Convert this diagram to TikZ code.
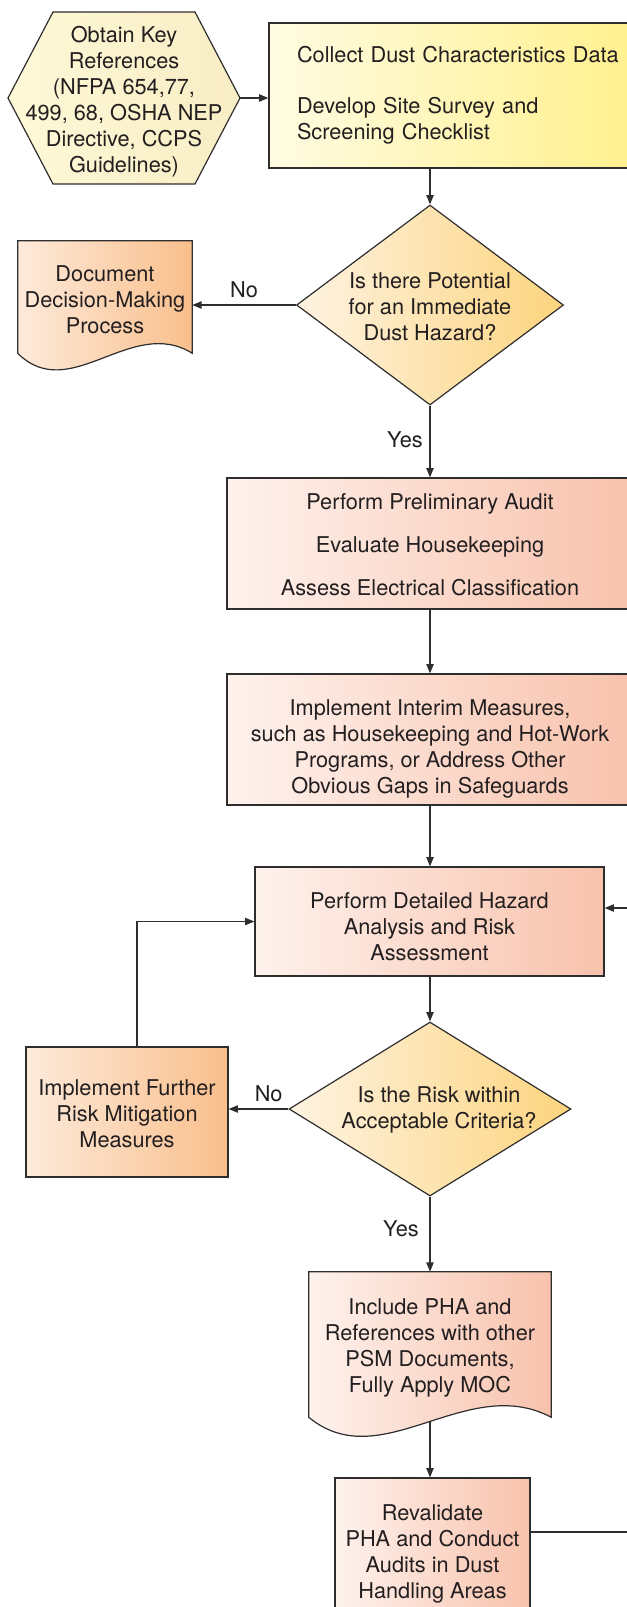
\documentclass[tikz,border=0pt]{standalone}
\usepackage{fontspec}
\setmainfont{TeX Gyre Heros}
\usepackage{xcolor}
\definecolor{inkgray}{HTML}{231F20}
\definecolor{edgegray}{HTML}{2E2E2E}
\definecolor{hexL}{HTML}{FFF9D8}
\definecolor{hexR}{HTML}{F8EDC4}
\definecolor{yellowL}{HTML}{FFFCE2}
\definecolor{yellowR}{HTML}{FFF08A}
\definecolor{amberL}{HTML}{FEF3E2}
\definecolor{amberR}{HTML}{FCD47E}
\definecolor{salmonL}{HTML}{FEF2ED}
\definecolor{salmonR}{HTML}{F8C2AC}
\definecolor{peachL}{HTML}{FDEADA}
\definecolor{peachR}{HTML}{F9BF8C}
\usepackage{tikz}
\usetikzlibrary{arrows.meta,positioning,calc,shapes.geometric,backgrounds}
% taller first line pushes a centred text block down
\newcommand{\droptext}[1]{\rule{0pt}{#1}}
\tikzset{
  every node/.style={font=\fontsize{16.3}{19.5}\selectfont,text=inkgray},
  stepbox/.style={draw=edgegray,line width=0.9pt,inner sep=0pt,align=center},
  yellowbox/.style={stepbox,left color=yellowL,right color=yellowR},
  salmonbox/.style={stepbox,left color=salmonL,right color=salmonR},
  peachbox/.style={stepbox,left color=peachL,right color=peachR},
  decision/.style={draw=edgegray,line width=0.9pt,diamond,inner sep=0pt,align=center,left color=amberL,right color=amberR},
  docshape/.style={draw=edgegray,line width=0.9pt},
  flowarrow/.style={-{Triangle[length=7pt,width=5.5pt]},line width=0.9pt,edgegray},
  flowline/.style={line width=0.9pt,edgegray},
  answer/.style={inner sep=5pt}
}

\begin{document}
\begin{tikzpicture}[x=0.75pt,y=-0.75pt]
\useasboundingbox (0,0) rectangle (627,1607);
\clip (0,0) rectangle (627,1607);
% references hexagon
\draw[docshape,left color=hexL,right color=hexR] (8,98) -- (53,12) -- (195,12) -- (240,98) -- (195,184) -- (53,184) -- cycle;
\node[align=center] (refs) at (124,102) {Obtain Key\\References\\(NFPA 654,77,\\499, 68, OSHA NEP\\Directive, CCPS\\Guidelines)};
\coordinate (refstip) at (240,98);
\node[yellowbox,align=left,minimum width=285.75pt,minimum height=108.75pt,text width=243.75pt,inner xsep=21pt] (collect) at (459.5,95.5)
  {Collect Dust Characteristics Data\\[18.75pt]Develop Site Survey and\\Screening Checklist};
\node[decision,aspect=1.3,minimum width=200.25pt,minimum height=150pt] (hazard) at (430,305) {\droptext{15pt}Is there Potential\\for an Immediate\\Dust Hazard?};
\node[minimum width=130.5pt,minimum height=84pt,inner sep=0pt,align=center] (docdec) at (105,297) {\droptext{16.5pt}Document\\Decision-Making\\Process};
\node[salmonbox,minimum width=304.5pt,minimum height=98.25pt] (prelim) at (430,543.5)
  {\droptext{14.5pt}Perform Preliminary Audit\\[12.75pt]Evaluate Housekeeping\\[12.75pt]Assess Electrical Classification};
\node[salmonbox,minimum width=304.5pt,minimum height=98.25pt] (interim) at (430,739.5)
  {\droptext{26.5pt}Implement Interim Measures,\\such as Housekeeping and Hot-Work\\Programs, or Address Other\\Obvious Gaps in Safeguards};
\node[salmonbox,minimum width=261.75pt,minimum height=81.75pt] (detail) at (429.5,921.5)
  {\droptext{19.5pt}Perform Detailed Hazard\\Analysis and Risk\\Assessment};
\node[decision,minimum width=211.5pt,minimum height=130.5pt] (risk) at (430,1109) {};
\node[align=center] (risktext) at (439,1110) {Is the Risk within\\Acceptable Criteria?};
\node[peachbox,minimum width=151.5pt,minimum height=97.5pt] (further) at (127,1112)
  {\droptext{15pt}Implement Further\\Risk Mitigation\\Measures};
\node[minimum width=181.5pt,minimum height=108.75pt,inner sep=0pt,align=center] (pha) at (430,1344.5)
  {\droptext{16.5pt}Include PHA and\\References with other\\PSM Documents,\\Fully Apply MOC};
\node[salmonbox,minimum width=146.25pt,minimum height=108pt] (reval) at (432.5,1550)
  {\droptext{17.5pt}Revalidate\\PHA and Conduct\\Audits in Dust\\Handling Areas};
\coordinate (loopx) at (650,908);
% document shapes behind their texts
\begin{pgfonlayer}{background}
\draw[docshape,left color=peachL,right color=peachR] (docdec.north west) -- (docdec.north east) -- (docdec.south east)
  .. controls ($(docdec.south west)!0.65!(docdec.south east)+(0,-38)$) and ($(docdec.south west)!0.3!(docdec.south east)+(0,52)$) .. (docdec.south west) -- cycle;
\draw[docshape,left color=salmonL,right color=salmonR] (pha.north west) -- (pha.north east) -- (pha.south east)
  .. controls ($(pha.south west)!0.65!(pha.south east)+(0,-45)$) and ($(pha.south west)!0.3!(pha.south east)+(0,60)$) .. (pha.south west) -- cycle;
\end{pgfonlayer}
\draw[flowarrow] (refstip) -- (refstip -| collect.west);
\draw[flowarrow] (hazard.north |- collect.south) -- (hazard.north);
\draw[flowarrow] (hazard.west) -- node[above,answer] (no1) {No} (hazard.west -| docdec.east);
\draw[flowarrow] (hazard.south) -- node[left,answer,pos=0.48] (yes1) {Yes} (prelim.north);
\draw[flowarrow] (prelim.south) -- (interim.north);
\draw[flowarrow] (interim.south) -- (interim.south |- detail.north);
\draw[flowarrow] (risk.north |- detail.south) -- (risk.north);
\draw[flowarrow] (risk.west) -- node[above,answer,pos=0.33] (no2) {No} (risk.west -| further.east);
\draw[flowarrow] ([xshift=7.5pt]further.north) |- (detail.west);
\draw[flowarrow] (risk.south) -- node[left,answer,pos=0.43,xshift=-3pt] (yes2) {Yes} (pha.north);
\draw[flowarrow] ([yshift=-2.8pt]pha.south) -- (pha.south |- reval.north);
\draw[flowline] ([yshift=13.5pt]reval.east) -| (loopx);
\draw[flowarrow] (loopx) -- (loopx -| detail.east);
\end{tikzpicture}
\end{document}
